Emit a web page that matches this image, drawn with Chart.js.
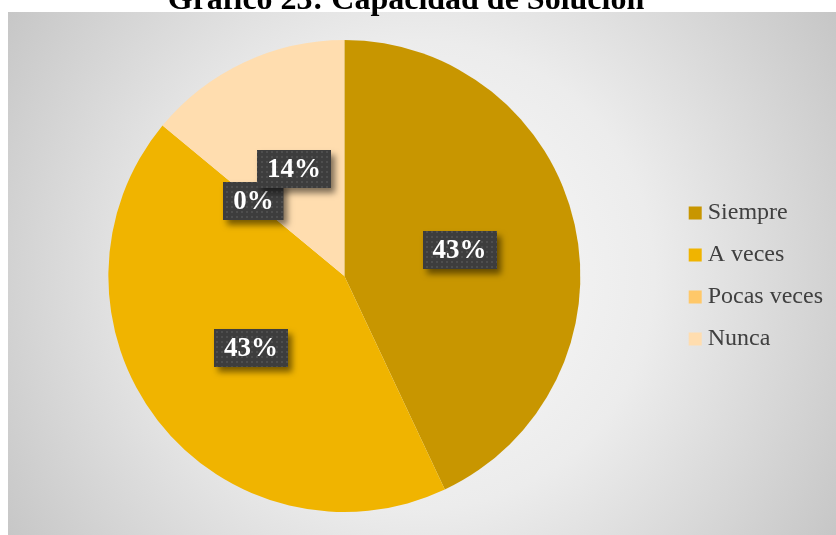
<!DOCTYPE html>
<html>
<head>
<meta charset="utf-8">
<title>Capacidad de Solución</title>
<script src="https://cdn.jsdelivr.net/npm/chart.js"></script>
<style>
    html, body { margin: 0; padding: 0; background: #fff; overflow: hidden; }
    #wrap { width: 846px; height: 535px; }
</style>
</head>
<body>
<div id="wrap"><canvas id="myChart" width="846" height="535"></canvas></div>
<script>
let chartTitle = 'Gráfico 23: Capacidad de Solución';
let categories = ['Siempre', 'A veces', 'Pocas veces', 'Nunca'];
let percentages = [43, 43, 0, 14];
let sliceColors = ['#C89600', '#F0B400', '#FFC869', '#FFDDAF'];

let myChart;

// dotted dark fill used behind the percentage labels
function makeLabelPattern(ctx) {
    let tile = document.createElement('canvas');
    tile.width = 5;
    tile.height = 5;
    let t = tile.getContext('2d');
    t.fillStyle = '#3d3d3d';
    t.fillRect(0, 0, 5, 5);
    t.fillStyle = '#4e4e4e';
    t.fillRect(1, 1, 2, 2);
    return ctx.createPattern(tile, 'repeat');
}

const backgroundPlugin = {
    id: 'background',
    beforeDraw(chart) {
        let ctx = chart.ctx;
        let w = chart.width;
        let h = chart.height;
        ctx.save();
        ctx.fillStyle = '#ffffff';
        ctx.fillRect(0, 0, w, h);

        // grey box with a soft light spot in the middle
        let grad = ctx.createRadialGradient(420, 275, 0, 420, 275, 520);
        grad.addColorStop(0, '#fbfbfb');
        grad.addColorStop(0.45, '#ececec');
        grad.addColorStop(1, '#c2c2c2');
        ctx.fillStyle = grad;
        ctx.fillRect(8, 12, w - 8, h - 12);

        ctx.fillStyle = '#000000';
        ctx.font = 'bold 32px "Liberation Serif"';
        ctx.textAlign = 'center';
        ctx.textBaseline = 'alphabetic';
        ctx.fillText(chartTitle, 406, 9);
        ctx.restore();
    }
};

const labelPlugin = {
    id: 'sliceLabels',
    afterDatasetsDraw(chart) {
        let ctx = chart.ctx;
        let meta = chart.getDatasetMeta(0);
        let pattern = makeLabelPattern(ctx);
        ctx.save();
        ctx.font = 'bold 27px "Liberation Serif"';
        ctx.textAlign = 'center';
        ctx.textBaseline = 'middle';
        for (let i = 0; i < meta.data.length; i++) {
            let pos = meta.data[i].tooltipPosition();
            let text = percentages[i] + '%';
            let bw = ctx.measureText(text).width + 20;
            let bh = 38;
            let x = Math.round(pos.x - bw / 2);
            let y = Math.round(pos.y - bh / 2);

            ctx.save();
            ctx.shadowColor = 'rgba(0,0,0,0.5)';
            ctx.shadowBlur = 6;
            ctx.shadowOffsetX = 4;
            ctx.shadowOffsetY = 5;
            ctx.fillStyle = pattern;
            ctx.fillRect(x, y, bw, bh);
            ctx.restore();

            ctx.fillStyle = '#ffffff';
            ctx.fillText(text, pos.x, pos.y + 1);
        }
        ctx.restore();
    }
};

const config = {
    type: 'pie',
    data: {
        labels: categories,
        datasets: [{
            data: percentages,
            backgroundColor: sliceColors,
            borderWidth: 0
        }]
    },
    options: {
        responsive: false,
        animation: false,
        devicePixelRatio: 1,
        layout: {
            padding: { left: 12, top: 40, right: 13, bottom: 23 }
        },
        plugins: {
            tooltip: { enabled: false },
            legend: {
                position: 'right',
                labels: {
                    usePointStyle: true,
                    pointStyle: 'rect',
                    boxWidth: 1,
                    boxHeight: 13,
                    padding: 18,
                    color: '#404040',
                    font: { family: 'Liberation Serif', size: 24 }
                }
            }
        }
    },
    plugins: [backgroundPlugin, labelPlugin]
};

function init() {
    myChart = new Chart(
        document.getElementById('myChart'),
        config
    );
}

init();
</script>
</body>
</html>
